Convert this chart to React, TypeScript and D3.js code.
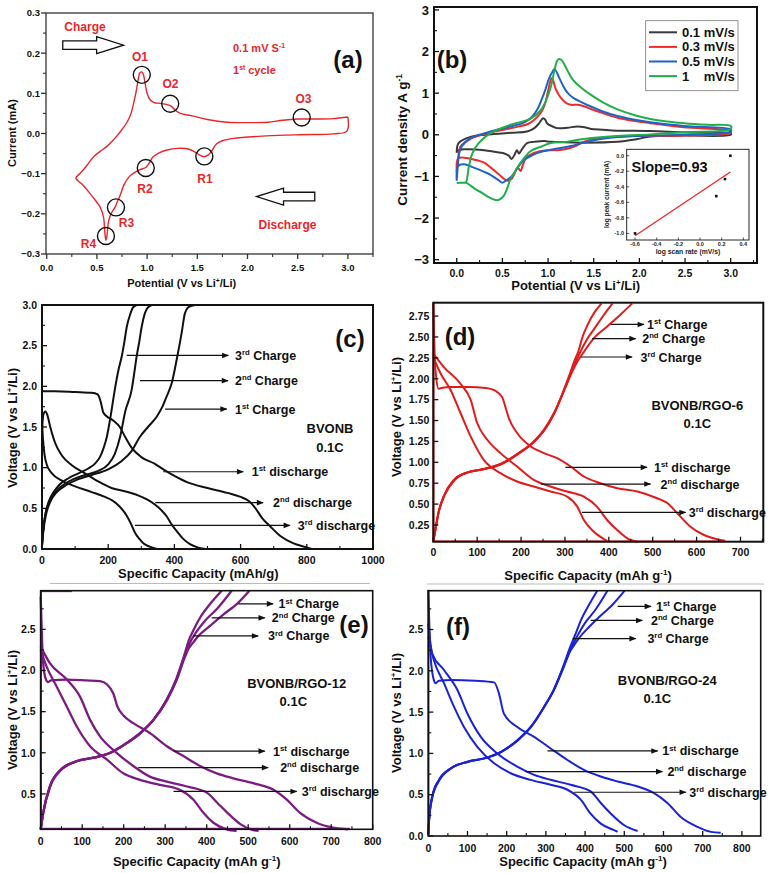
import React from "react";
import * as d3 from "d3";

type Pt = [number, number];
const FONT = "Arial, 'Liberation Sans', Helvetica, sans-serif";

// ---------------- (a) CV first cycle ----------------
const aLower: Pt[] = [[3.0,0.041],[2.99,0.006],[2.86,-0.001],[2.52,-0.003],[2.19,-0.006],[1.86,-0.012],[1.75,-0.018],[1.69,-0.026],[1.64,-0.045],[1.61,-0.053],[1.57,-0.058],[1.52,-0.053],[1.47,-0.045],[1.40,-0.038],[1.30,-0.037],[1.2,-0.041],[1.12,-0.048],[1.06,-0.058],[1.02,-0.074],[0.99,-0.084],[0.93,-0.09],[0.87,-0.098],[0.82,-0.108],[0.77,-0.128],[0.73,-0.155],[0.70,-0.172],[0.68,-0.184],[0.64,-0.2],[0.615,-0.22],[0.603,-0.248],[0.59,-0.266],[0.58,-0.249],[0.565,-0.207],[0.53,-0.182],[0.48,-0.165],[0.43,-0.149],[0.36,-0.128],[0.29,-0.111]];
const aUpper: Pt[] = [[0.29,-0.111],[0.33,-0.1],[0.37,-0.089],[0.42,-0.073],[0.47,-0.057],[0.53,-0.045],[0.6,-0.032],[0.65,-0.02],[0.7,-0.006],[0.75,0.01],[0.8,0.028],[0.84,0.05],[0.87,0.08],[0.895,0.11],[0.915,0.14],[0.93,0.152],[0.95,0.153],[0.965,0.145],[0.98,0.125],[1.0,0.1],[1.03,0.084],[1.07,0.077],[1.13,0.075],[1.2,0.072],[1.24,0.068],[1.28,0.058],[1.33,0.05],[1.45,0.044],[1.6,0.035],[1.8,0.028],[2.0,0.027],[2.2,0.028],[2.35,0.033],[2.5,0.036],[2.7,0.036],[2.85,0.037],[3.0,0.041]];
const aPeakNames = ["O1","O2","O3","R1","R2","R3","R4"];
const aPeakV = [0.947,1.23,2.54,1.57,0.987,0.69,0.59];
const aPeakI = [0.146,0.074,0.04,-0.057,-0.086,-0.184,-0.255];
const aXTicks = [0,0.5,1,1.5,2,2.5,3];
const aXMinor = [0.25,0.75,1.25,1.75,2.25,2.75,3.25];
const aYTicks = [-0.3,-0.2,-0.1,0,0.1,0.2,0.3];
const aYMinor = [-0.25,-0.15,-0.05,0.05,0.15,0.25];

// ---------------- (b) CV at several scan rates ----------------
const scanRates = ["0.1 mV/s","0.3 mV/s","0.5 mV/s","1    mV/s"];
const cv01: Pt[] = [[0,-0.43],[0.02,-0.2],[0.15,-0.05],[0.41,0.02],[0.6,0.05],[0.77,0.08],[0.85,0.16],[0.9,0.27],[0.945,0.4],[0.97,0.36],[0.99,0.27],[1.05,0.2],[1.1,0.16],[1.21,0.17],[1.32,0.2],[1.4,0.18],[1.47,0.14],[1.6,0.12],[1.76,0.1],[2.12,0.09],[2.49,0.06],[3.0,0.03],
  [3.0,0.0],[2.49,-0.02],[2.12,-0.04],[1.98,-0.1],[1.76,-0.17],[1.39,-0.19],[1.03,-0.17],[0.96,-0.15],[0.85,-0.17],[0.77,-0.2],[0.72,-0.33],[0.7,-0.4],[0.68,-0.45],[0.66,-0.37],[0.645,-0.42],[0.63,-0.49],[0.6,-0.58],[0.57,-0.5],[0.52,-0.45],[0.48,-0.43],[0.3,-0.37],[0.08,-0.35],[0.015,-0.38],[0,-0.43]];
const cv03: Pt[] = [[0,-0.9],[0.02,-0.5],[0.044,-0.27],[0.15,-0.1],[0.3,0.02],[0.41,0.08],[0.55,0.14],[0.66,0.19],[0.78,0.26],[0.85,0.36],[0.92,0.53],[0.96,0.7],[1.0,1.05],[1.02,1.25],[1.04,1.36],[1.06,1.28],[1.08,1.12],[1.12,0.95],[1.16,0.84],[1.2,0.76],[1.25,0.72],[1.32,0.72],[1.4,0.68],[1.47,0.62],[1.6,0.52],[1.76,0.41],[1.95,0.33],[2.12,0.28],[2.49,0.18],[3.0,0.09],
  [3.0,0.05],[2.49,-0.02],[2.0,-0.03],[1.76,-0.04],[1.6,-0.07],[1.47,-0.11],[1.38,-0.18],[1.3,-0.27],[1.2,-0.34],[1.1,-0.37],[1.0,-0.37],[0.9,-0.4],[0.82,-0.46],[0.76,-0.55],[0.72,-0.75],[0.7,-0.87],[0.68,-0.82],[0.66,-0.8],[0.63,-0.95],[0.6,-1.06],[0.55,-1.1],[0.46,-0.95],[0.38,-0.8],[0.3,-0.67],[0.2,-0.6],[0.08,-0.55],[0.015,-0.57],[0,-0.9]];
const cv05: Pt[] = [[0,-1.1],[0.01,-0.8],[0.026,-0.45],[0.06,-0.26],[0.15,-0.08],[0.25,0.0],[0.37,0.08],[0.59,0.2],[0.74,0.3],[0.82,0.42],[0.88,0.6],[0.93,0.85],[0.97,1.08],[1.01,1.35],[1.05,1.52],[1.07,1.58],[1.095,1.5],[1.12,1.38],[1.16,1.2],[1.19,1.08],[1.23,0.97],[1.28,0.88],[1.37,0.78],[1.47,0.68],[1.6,0.56],[1.76,0.45],[1.95,0.36],[2.12,0.3],[2.49,0.21],[3.0,0.13],
  [3.0,0.08],[2.49,0.0],[1.94,-0.03],[1.58,-0.1],[1.4,-0.18],[1.25,-0.27],[1.1,-0.33],[0.96,-0.39],[0.88,-0.44],[0.81,-0.51],[0.74,-0.6],[0.69,-0.72],[0.65,-0.85],[0.6,-1.0],[0.55,-1.08],[0.5,-1.15],[0.445,-1.07],[0.37,-0.96],[0.3,-0.89],[0.2,-0.8],[0.08,-0.71],[0.015,-0.75],[0,-1.1]];
const cv1: Pt[] = [[0,-1.16],[0.05,-1.155],[0.1,-1.14],[0.117,-1.0],[0.13,-0.8],[0.17,-0.45],[0.24,-0.2],[0.37,0.04],[0.59,0.24],[0.81,0.39],[0.92,0.59],[0.97,0.78],[1.03,1.15],[1.07,1.55],[1.1,1.78],[1.12,1.82],[1.15,1.79],[1.19,1.64],[1.23,1.47],[1.28,1.3],[1.37,1.12],[1.47,0.96],[1.6,0.78],[1.76,0.61],[1.95,0.47],[2.12,0.38],[2.3,0.32],[2.49,0.28],[2.75,0.24],[3.0,0.21],
  [3.0,0.14],[2.49,0.06],[2.12,0.01],[1.76,-0.03],[1.39,-0.1],[1.2,-0.17],[1.03,-0.2],[0.93,-0.28],[0.81,-0.39],[0.7,-0.67],[0.64,-0.88],[0.59,-1.06],[0.55,-1.3],[0.52,-1.45],[0.48,-1.54],[0.445,-1.57],[0.4,-1.55],[0.35,-1.5],[0.28,-1.4],[0.2,-1.3],[0.14,-1.2],[0.1,-1.14]];
const bXTicks = [0,0.5,1,1.5,2,2.5,3];
const bXMinor = [-0.25,0.25,0.75,1.25,1.75,2.25,2.75,3.25];
const bYTicks = [-3,-2,-1,0,1,2,3];
const bYMinor = [-2.5,-1.5,-0.5,0.5,1.5,2.5];
const insetLogRate = [-0.6,0.15,0.23,0.28];
const insetLogPeak = [-1.0,-0.52,-0.3,0.0];
const insetFit: Pt[] = [[-0.6,-1.03],[0.28,-0.21]];
const insetXTicks = [-0.6,-0.4,-0.2,0,0.2,0.4];
const insetYTicks = [0,-0.2,-0.4,-0.6,-0.8,-1.0];

// ---------------- (c) BVONB ----------------
const cCh1: Pt[] = [[0,0.04],[5,0.25],[12,0.42],[25,0.58],[45,0.7],[75,0.79],[110,0.86],[150,0.91],[200,0.98],[240,1.08],[270,1.2],[296,1.38],[320,1.5],[347,1.63],[365,1.76],[377,1.88],[392,2.04],[407,2.33],[415,2.5],[422,2.66],[432,2.9],[445,2.98],[463,3.0]];
const cCh2: Pt[] = [[0,0.04],[4,0.25],[10,0.42],[22,0.58],[40,0.7],[65,0.79],[95,0.86],[130,0.91],[170,0.96],[200,1.04],[220,1.17],[236,1.38],[252,1.7],[271,1.96],[280,2.2],[286,2.37],[294,2.55],[301,2.73],[311,2.9],[320,2.97],[332,3.0]];
const cCh3: Pt[] = [[0,0.04],[4,0.25],[10,0.42],[20,0.58],[35,0.7],[55,0.8],[80,0.87],[110,0.93],[140,0.99],[160,1.05],[175,1.13],[186,1.24],[196,1.38],[208,1.65],[220,1.96],[231,2.2],[241,2.37],[249,2.55],[256,2.73],[266,2.88],[275,2.97],[286,3.0]];
const cDis1: Pt[] = [[0,1.95],[5,1.94],[40,1.94],[100,1.93],[150,1.92],[168,1.9],[178,1.8],[185,1.68],[196,1.63],[215,1.58],[235,1.5],[251,1.38],[270,1.25],[300,1.13],[340,1.05],[370,0.97],[400,0.9],[440,0.82],[500,0.75],[560,0.69],[600,0.64],[625,0.59],[645,0.5],[665,0.38],[689,0.28],[720,0.16],[760,0.07],[790,0.03],[815,0.0]];
const cDis2: Pt[] = [[0,1.45],[4,1.65],[10,1.69],[16,1.65],[25,1.5],[40,1.3],[60,1.15],[90,1.03],[130,0.93],[170,0.83],[210,0.75],[250,0.71],[290,0.66],[317,0.61],[340,0.55],[360,0.48],[377,0.4],[392,0.3],[407,0.22],[425,0.13],[447,0.06],[470,0.02],[493,0.0]];
const cDis3: Pt[] = [[0,1.55],[3,1.35],[8,1.15],[15,1.03],[30,0.93],[60,0.84],[100,0.77],[150,0.7],[190,0.64],[211,0.6],[235,0.52],[256,0.41],[270,0.3],[281,0.2],[295,0.12],[306,0.07],[325,0.03],[347,0.0]];
const cXTicks = [0,200,400,600,800,1000];
const cXMinor = [100,300,500,700,900];
const cYTicks = [0,0.5,1,1.5,2,2.5,3];
const cYMinor = [0.25,0.75,1.25,1.75,2.25,2.75];
// annotation arrows: [start capacity, end capacity, voltage] for cycles 1,2,3
const cChargeArrows: number[][] = [[372,558,1.72],[296,562,2.07],[256,563,2.38]];
const cDisArrows: number[][] = [[366,608,0.95],[342,668,0.57],[281,749,0.29]];

// ---------------- (d) BVONB/RGO-6 ----------------
const dCh1: Pt[] = [[0,0.05],[5,0.2],[12,0.4],[24,0.6],[47,0.79],[77,0.88],[115,0.92],[153,0.98],[191,1.1],[229,1.25],[252,1.39],[275,1.59],[298,1.86],[318,2.1],[330,2.22],[343,2.32],[365,2.48],[395,2.62],[425,2.76],[453,2.9]];
const dCh2: Pt[] = [[0,0.05],[5,0.2],[12,0.4],[25,0.6],[48,0.79],[78,0.88],[116,0.92],[154,0.98],[192,1.1],[230,1.25],[253,1.39],[276,1.59],[298,1.86],[316,2.1],[326,2.22],[335,2.32],[350,2.47],[367,2.6],[388,2.76],[408,2.9]];
const dCh3: Pt[] = [[0,0.05],[5,0.2],[12,0.4],[25,0.6],[49,0.79],[80,0.88],[118,0.92],[156,0.98],[194,1.1],[231,1.25],[254,1.39],[276,1.59],[297,1.86],[314,2.1],[322,2.22],[330,2.32],[340,2.5],[352,2.65],[368,2.8],[383,2.9]];
const dDis1: Pt[] = [[0,2.9],[3,2.3],[7,2.0],[12,1.88],[18,1.89],[40,1.9],[80,1.9],[120,1.89],[140,1.86],[157,1.78],[165,1.65],[172,1.53],[191,1.35],[222,1.19],[252,1.11],[282,1.05],[313,0.95],[343,0.83],[381,0.75],[419,0.69],[465,0.65],[510,0.57],[534,0.51],[556,0.39],[586,0.23],[617,0.13],[647,0.08],[665,0.06]];
const dDis2: Pt[] = [[0,2.3],[24,2.14],[62,1.94],[85,1.75],[100,1.47],[123,1.27],[153,1.11],[191,0.95],[229,0.79],[267,0.71],[305,0.65],[343,0.59],[373,0.47],[396,0.31],[419,0.19],[449,0.07],[465,0.05]];
const dDis3: Pt[] = [[0,2.26],[17,2.06],[40,1.86],[62,1.59],[85,1.31],[115,1.03],[153,0.87],[191,0.77],[229,0.71],[267,0.65],[305,0.59],[328,0.47],[343,0.31],[366,0.17],[396,0.06]];
const dBase: Pt[] = [[0,0.055],[665,0.055]];
const dEdge: Pt[] = [[0.5,0.05],[0.5,2.91]];
const dXTicks = [0,100,200,300,400,500,600,700];
const dXMinor = [50,150,250,350,450,550,650,750];
const dYTicks = [0.25,0.5,0.75,1,1.25,1.5,1.75,2,2.25,2.5,2.75];
const dChargeArrows: number[][] = [[404,480,2.65],[362,461,2.48],[336,453,2.26]];
const dDisArrows: number[][] = [[301,487,0.94],[245,495,0.74],[339,575,0.40]];

// ---------------- (e) BVONB/RGO-12 ----------------
const eCh1: Pt[] = [[0,0.07],[6,0.27],[22,0.59],[47,0.79],[87,0.9],[127,0.94],[167,1.0],[207,1.12],[239,1.24],[271,1.4],[304,1.64],[328,1.89],[348,2.17],[358,2.28],[366,2.33],[380,2.42],[405,2.53],[440,2.68],[475,2.82],[503,2.97]];
const eCh2: Pt[] = [[0,0.07],[6,0.27],[22,0.59],[48,0.79],[88,0.9],[128,0.94],[168,1.0],[208,1.12],[240,1.24],[272,1.4],[304,1.64],[327,1.89],[346,2.17],[356,2.3],[363,2.37],[375,2.47],[395,2.6],[425,2.75],[460,2.97]];
const eCh3: Pt[] = [[0,0.07],[6,0.27],[23,0.59],[49,0.79],[89,0.9],[129,0.94],[169,1.0],[209,1.12],[241,1.24],[272,1.4],[303,1.64],[326,1.89],[345,2.17],[357,2.37],[368,2.49],[385,2.65],[410,2.82],[436,2.97]];
const eDis1: Pt[] = [[0,2.9],[3,2.4],[6,2.09],[12,1.9],[18,1.86],[25,1.88],[63,1.89],[110,1.88],[143,1.87],[160,1.83],[175,1.72],[185,1.56],[200,1.45],[223,1.36],[263,1.24],[304,1.08],[344,0.96],[384,0.84],[424,0.75],[464,0.69],[512,0.63],[561,0.55],[593,0.43],[625,0.27],[665,0.15],[705,0.09],[741,0.07]];
const eDis2: Pt[] = [[0,2.29],[22,2.09],[63,1.89],[95,1.68],[119,1.4],[143,1.2],[183,1.0],[223,0.84],[263,0.71],[304,0.65],[353,0.59],[402,0.51],[426,0.39],[450,0.27],[482,0.13],[512,0.06],[525,0.05]];
const eDis3: Pt[] = [[0,2.25],[14,2.05],[39,1.8],[63,1.56],[87,1.32],[119,1.08],[159,0.92],[199,0.75],[239,0.67],[287,0.61],[335,0.55],[368,0.43],[392,0.27],[416,0.15],[448,0.07],[472,0.05]];
const eBase: Pt[] = [[0,0.075],[745,0.075]];
const eTop: Pt[] = [[0,2.965],[75,2.965]];
const eEdge: Pt[] = [[0.5,0.07],[0.5,2.97]];
const eXTicks = [0,100,200,300,400,500,600,700,800];
const eXMinor = [50,150,250,350,450,550,650,750];
const eYTicks = [0.5,1,1.5,2,2.5];
const eYMinor = [0.25,0.75,1.25,1.75,2.25,2.75];
const eChargeArrows: number[][] = [[476,560,2.81],[412,540,2.64],[368,524,2.42]];
const eDisArrows: number[][] = [[320,540,1.02],[235,548,0.82],[320,617,0.53]];

// ---------------- (f) BVONB/RGO-24 ----------------
const fCh1: Pt[] = [[0,0.02],[2,0.19],[10,0.48],[27,0.68],[57,0.82],[100,0.9],[142,0.94],[185,1.02],[227,1.16],[261,1.32],[295,1.56],[321,1.77],[346,2.05],[360,2.22],[369,2.29],[385,2.4],[410,2.53],[440,2.67],[470,2.8],[501,2.97]];
const fCh2: Pt[] = [[0,0.02],[2,0.19],[10,0.48],[28,0.68],[58,0.82],[101,0.9],[143,0.94],[186,1.02],[228,1.16],[262,1.32],[295,1.56],[320,1.77],[345,2.05],[358,2.2],[366,2.29],[380,2.42],[400,2.58],[425,2.73],[457,2.97]];
const fCh3: Pt[] = [[0,0.02],[2,0.19],[11,0.48],[29,0.68],[59,0.82],[102,0.9],[144,0.94],[187,1.02],[229,1.16],[262,1.32],[295,1.56],[320,1.77],[344,2.05],[362,2.29],[376,2.45],[390,2.62],[410,2.8],[431,2.97]];
const fDis1: Pt[] = [[0,2.98],[3,2.5],[6,2.17],[14,1.89],[19,1.85],[27,1.88],[60,1.89],[120,1.88],[168,1.86],[180,1.73],[193,1.48],[227,1.32],[270,1.2],[312,1.06],[355,0.92],[397,0.8],[440,0.72],[483,0.66],[534,0.6],[576,0.52],[610,0.4],[644,0.23],[687,0.11],[721,0.05],[746,0.04]];
const fDis2: Pt[] = [[0,2.57],[10,2.21],[40,2.01],[74,1.77],[100,1.48],[134,1.2],[176,1.0],[227,0.84],[270,0.74],[312,0.68],[363,0.62],[414,0.54],[440,0.4],[466,0.27],[500,0.13],[534,0.06]];
const fDis3: Pt[] = [[0,2.41],[14,2.13],[40,1.85],[66,1.56],[91,1.32],[125,1.08],[168,0.88],[210,0.76],[261,0.68],[312,0.62],[355,0.56],[389,0.44],[414,0.27],[440,0.15],[474,0.07],[483,0.05]];
const fEdge: Pt[] = [[0.5,0.0],[0.5,2.97]];
const fXTicks = [0,100,200,300,400,500,600,700,800];
const fXMinor = [50,150,250,350,450,550,650,750];
const fYTicks = [0,0.5,1,1.5,2,2.5];
const fYMinor = [0.25,0.75,1.25,1.75,2.25,2.75];
const fChargeArrows: number[][] = [[483,568,2.78],[414,546,2.61],[368,529,2.39]];
const fDisArrows: number[][] = [[304,585,1.03],[249,597,0.78],[372,657,0.53]];

const ordNum = ["1","2","3"];
const ordSuf = ["st","nd","rd"];

type Part = { t: string; sup?: boolean };
function Rich(props: any) {
  const { parts, fs, ...rest } = props;
  let shifted = false;
  const kids = (parts as Part[]).map((p, i) => {
    if (p.sup) {
      const el = <tspan key={i} dy={shifted ? 0 : -fs * 0.38} fontSize={fs * 0.62}>{p.t}</tspan>;
      shifted = true;
      return el;
    }
    const el = <tspan key={i} dy={shifted ? fs * 0.38 : 0}>{p.t}</tspan>;
    shifted = false;
    return el;
  });
  return <text fontFamily={FONT} fontWeight="bold" fontSize={fs} style={{ whiteSpace: "pre" }} {...rest}>{kids}</text>;
}

type Sc = d3.ScaleLinear<number, number>;
function Axes(p: {
  xs: Sc; ys: Sc; xTicks: number[]; xMinor: number[]; yTicks: number[]; yMinor: number[];
  xFmt: (v: number) => string; yFmt: (v: number) => string; dir: number; frameW: number;
  xFont: number; yFont: number; xDy: number; yDx: number; color?: string;
}) {
  const [x0, x1] = p.xs.range();
  const [yb, yt] = p.ys.range();
  const c = p.color || "#111";
  const L = 5, M = 3;
  return (
    <g>
      {p.xTicks.map((t) => <line key={"xt" + t} x1={p.xs(t)} x2={p.xs(t)} y1={yb} y2={yb - p.dir * L} stroke={c} strokeWidth={1.3} />)}
      {p.xMinor.filter((t) => p.xs(t) <= x1).map((t) => <line key={"xm" + t} x1={p.xs(t)} x2={p.xs(t)} y1={yb} y2={yb - p.dir * M} stroke={c} strokeWidth={1.1} />)}
      {p.yTicks.map((t) => <line key={"yt" + t} x1={x0} x2={x0 + p.dir * L} y1={p.ys(t)} y2={p.ys(t)} stroke={c} strokeWidth={1.3} />)}
      {p.yMinor.filter((t) => p.ys(t) >= yt).map((t) => <line key={"ym" + t} x1={x0} x2={x0 + p.dir * M} y1={p.ys(t)} y2={p.ys(t)} stroke={c} strokeWidth={1.1} />)}
      <rect x={x0} y={yt} width={x1 - x0} height={yb - yt} fill="none" stroke={c} strokeWidth={p.frameW} />
      {p.xTicks.map((t) => <text key={"xl" + t} x={p.xs(t)} y={yb + p.xDy} textAnchor="middle" fontFamily={FONT} fontWeight="bold" fontSize={p.xFont} fill="#111">{p.xFmt(t)}</text>)}
      {p.yTicks.map((t) => <text key={"yl" + t} x={x0 - p.yDx} y={p.ys(t) + p.yFont * 0.36} textAnchor="end" fontFamily={FONT} fontWeight="bold" fontSize={p.yFont} fill="#111">{p.yFmt(t)}</text>)}
    </g>
  );
}

function HollowArrow({ x0, x1, y }: { x0: number; x1: number; y: number }) {
  const d = Math.sign(x1 - x0);
  const head = 27, hh = 8.5, bh = 4.3;
  const xh = x1 - d * head;
  const pts = [[x0, y - bh], [xh, y - bh], [xh, y - hh], [x1, y], [xh, y + hh], [xh, y + bh], [x0, y + bh]];
  return <polygon points={pts.map((q) => q.join(",")).join(" ")} fill="white" stroke="#111" strokeWidth={1.3} />;
}

function GCDPanel(props: {
  xs: Sc; ys: Sc; color: string; curves: Pt[][]; extra: Pt[][]; chargeArrows: number[][]; disArrows: number[][];
  chargeTextX: number[]; disTextX: number[]; lw: number;
}) {
  const line = d3.line<Pt>().x((d) => props.xs(d[0])).y((d) => props.ys(d[1])).curve(d3.curveMonotoneX);
  const straight = d3.line<Pt>().x((d) => props.xs(d[0])).y((d) => props.ys(d[1]));
  return (
    <g>
      {props.extra.map((c, i) => <path key={"e" + i} d={straight(c) || ""} fill="none" stroke={props.color} strokeWidth={props.lw * 0.9} />)}
      {props.curves.map((c, i) => <path key={"c" + i} d={line(c) || ""} fill="none" stroke={props.color} strokeWidth={props.lw} strokeLinejoin="round" />)}
      {props.chargeArrows.map((a, i) => (
        <g key={"ca" + i}>
          <line x1={props.xs(a[0])} x2={props.xs(a[1])} y1={props.ys(a[2])} y2={props.ys(a[2])} stroke="#111" strokeWidth={1.2} markerEnd="url(#ah)" />
          <Rich x={props.xs(props.chargeTextX[i])} y={props.ys(a[2]) + 4.5} fs={12.5} fill="#111" parts={[{ t: ordNum[i] }, { t: ordSuf[i], sup: true }, { t: " Charge" }]} />
        </g>
      ))}
      {props.disArrows.map((a, i) => (
        <g key={"da" + i}>
          <line x1={props.xs(a[0])} x2={props.xs(a[1])} y1={props.ys(a[2])} y2={props.ys(a[2])} stroke="#111" strokeWidth={1.2} markerEnd="url(#ah)" />
          <Rich x={props.xs(props.disTextX[i])} y={props.ys(a[2]) + 4.5} fs={12.5} fill="#111" parts={[{ t: ordNum[i] }, { t: ordSuf[i], sup: true }, { t: " discharge" }]} />
        </g>
      ))}
    </g>
  );
}

const f1 = d3.format(".1f");
const f2 = d3.format(".2f");
const f0 = d3.format("d");

export default function App() {
  const axs = d3.scaleLinear().domain([-0.007, 3.25]).range([46, 373]);
  const ays = d3.scaleLinear().domain([-0.3, 0.3]).range([254, 13]);
  const bxs = d3.scaleLinear().domain([-0.249, 3.288]).range([434, 757]);
  const bys = d3.scaleLinear().domain([-3.08, 3.07]).range([263, 7]);
  const ixs = d3.scaleLinear().domain([-0.677, 0.452]).range([626.7, 749]);
  const iys = d3.scaleLinear().domain([-1.085, 0.083]).range([240, 149.3]);
  const cxs = d3.scaleLinear().domain([0, 1000]).range([42, 373]);
  const cys = d3.scaleLinear().domain([0, 3]).range([549, 305]);
  const dxs = d3.scaleLinear().domain([0, 752]).range([433.3, 763.3]);
  const dys = d3.scaleLinear().domain([0.05, 2.91]).range([541.7, 302.7]);
  const exs = d3.scaleLinear().domain([0, 800]).range([40.7, 372.7]);
  const eys = d3.scaleLinear().domain([0.07, 2.97]).range([829.3, 590.7]);
  const fxs = d3.scaleLinear().domain([0, 848]).range([428.3, 760.7]);
  const fys = d3.scaleLinear().domain([0, 2.97]).range([836, 590.7]);

  const aLine = d3.line<Pt>().x((d) => axs(d[0])).y((d) => ays(d[1])).curve(d3.curveCatmullRom.alpha(0.5));
  const bLine = d3.line<Pt>().x((d) => bxs(d[0])).y((d) => bys(d[1])).curve(d3.curveCatmullRom.alpha(0.5));
  const aRed = "#e8262a";
  const bColors = ["#3a3a3a", "#ef2b2b", "#1f63c9", "#1fae48"];
  const bData = [cv01, cv03, cv05, cv1];
  const labelPos = [[140, 61], [170.5, 88], [303.5, 103], [205, 183], [145, 193], [126.5, 227], [88.5, 248]];

  return (
    <svg width={768} height={873} viewBox="0 0 768 873" style={{ position: "absolute", left: 0, top: 0, background: "#fff" }}>
      <style>{`body{margin:0}`}</style>
      <defs>
        <marker id="ah" viewBox="0 0 10 10" refX="9" refY="5" markerWidth="8" markerHeight="7" markerUnits="userSpaceOnUse" orient="auto">
          <path d="M0,1 L10,5 L0,9 z" fill="#111" />
        </marker>
      </defs>
      <rect x={0} y={0} width={768} height={873} fill="#fff" />

      {/* ================= (a) ================= */}
      <g>
        <path d={aLine([...aLower, ...aUpper.slice(1)]) || ""} fill="none" stroke={aRed} strokeWidth={1.4} />
        {aPeakNames.map((n, i) => (
          <circle key={n} cx={axs(aPeakV[i])} cy={ays(aPeakI[i])} r={8.5} fill="none" stroke="#111" strokeWidth={1.4} />
        ))}
        {aPeakNames.map((n, i) => (
          <text key={"l" + n} x={labelPos[i][0]} y={labelPos[i][1]} textAnchor="middle" fontFamily={FONT} fontWeight="bold" fontSize={12} fill={aRed}>{n}</text>
        ))}
        <text x={85} y={30.5} textAnchor="middle" fontFamily={FONT} fontWeight="bold" fontSize={12} fill={aRed}>Charge</text>
        <HollowArrow x0={axs(0.16)} x1={axs(0.766)} y={ays(0.22)} />
        <text x={287.5} y={229} textAnchor="middle" fontFamily={FONT} fontWeight="bold" fontSize={12} fill={aRed}>Discharge</text>
        <HollowArrow x0={axs(2.67)} x1={axs(2.09)} y={ays(-0.157)} />
        <Rich x={233} y={52} fs={11} fill={aRed} parts={[{ t: "0.1 mV S" }, { t: "-1", sup: true }]} />
        <Rich x={233} y={74} fs={11} fill={aRed} parts={[{ t: "1" }, { t: "st", sup: true }, { t: " cycle" }]} />
        <text x={348} y={68} textAnchor="middle" fontFamily={FONT} fontWeight="bold" fontSize={24} fill="#111">(a)</text>
        <Axes xs={axs} ys={ays} xTicks={aXTicks} xMinor={aXMinor} yTicks={aYTicks} yMinor={aYMinor} xFmt={f1} yFmt={f1} dir={-1} frameW={1.3} xFont={9.5} yFont={9.5} xDy={16.5} yDx={6} color="#333" />
        <Rich x={181.7} y={287} textAnchor="middle" fs={11} fill="#111" parts={[{ t: "Potential (V vs Li" }, { t: "+", sup: true }, { t: "/Li)" }]} />
        <text transform="translate(16,133) rotate(-90)" textAnchor="middle" fontFamily={FONT} fontWeight="bold" fontSize={11} fill="#111">Current (mA)</text>
      </g>

      {/* ================= (b) ================= */}
      <g>
        {bData.map((d, i) => (
          <path key={"b" + i} d={bLine(d) || ""} fill="none" stroke={bColors[i]} strokeWidth={2} strokeLinejoin="round" />
        ))}
        <Axes xs={bxs} ys={bys} xTicks={bXTicks} xMinor={bXMinor} yTicks={bYTicks} yMinor={bYMinor} xFmt={f1} yFmt={f0} dir={1} frameW={2} xFont={10.5} yFont={13} xDy={14} yDx={5} />
        <text x={452} y={68} textAnchor="middle" fontFamily={FONT} fontWeight="bold" fontSize={24} fill="#111">(b)</text>
        <rect x={645.7} y={20.7} width={92.3} height={70} fill="#fff" stroke="#777" strokeWidth={0.8} />
        {scanRates.map((s, i) => (
          <g key={s}>
            <line x1={649} x2={677} y1={32.3 + i * 14.6} y2={32.3 + i * 14.6} stroke={bColors[i]} strokeWidth={2} />
            <text x={682} y={32.3 + i * 14.6 + 4.5} fontFamily={FONT} fontWeight="bold" fontSize={13} fill="#111" style={{ whiteSpace: "pre" }}>{s}</text>
          </g>
        ))}
        <rect x={600} y={144} width={152} height={113} fill="#fff" />
        <path d={d3.line<Pt>().x((d) => ixs(d[0])).y((d) => iys(d[1]))(insetFit) || ""} stroke="#e8262a" strokeWidth={1.3} fill="none" />
        {insetLogRate.map((v, i) => (
          <rect key={"ip" + i} x={ixs(v) - 1.3} y={iys(insetLogPeak[i]) - 1.3} width={2.6} height={2.6} fill="#111" />
        ))}
        {insetXTicks.map((t) => (
          <g key={"ixt" + t}>
            <line x1={ixs(t)} x2={ixs(t)} y1={240} y2={237.5} stroke="#111" strokeWidth={0.7} />
            <text x={ixs(t)} y={246} textAnchor="middle" fontFamily={FONT} fontWeight="bold" fontSize={5.5} fill="#222">{f1(t).replace("\u2212", "-")}</text>
          </g>
        ))}
        {insetYTicks.map((t) => (
          <g key={"iyt" + t}>
            <line x1={626.7} x2={629.2} y1={iys(t)} y2={iys(t)} stroke="#111" strokeWidth={0.7} />
            <text x={624} y={iys(t) + 2} textAnchor="end" fontFamily={FONT} fontWeight="bold" fontSize={5.5} fill="#222">{f1(t).replace("\u2212", "-")}</text>
          </g>
        ))}
        <rect x={626.7} y={149.3} width={122.3} height={90.7} fill="none" stroke="#111" strokeWidth={0.9} />
        <text x={688} y={253.5} textAnchor="middle" fontFamily={FONT} fontWeight="bold" fontSize={6.8} fill="#222">log scan rate (mV/s)</text>
        <text transform="translate(609,194.5) rotate(-90)" textAnchor="middle" fontFamily={FONT} fontWeight="bold" fontSize={6.5} fill="#222">log peak current (mA)</text>
        <text x={631.5} y={172} fontFamily={FONT} fontWeight="bold" fontSize={14.5} fill="#111">Slope=0.93</text>
        <Rich x={575.7} y={290} textAnchor="middle" fs={13} fill="#111" parts={[{ t: "Potential (V vs Li" }, { t: "+", sup: true }, { t: "/Li)" }]} />
        <Rich transform="translate(407,140) rotate(-90)" textAnchor="middle" fs={13.5} fill="#111" parts={[{ t: "Current density A g" }, { t: "-1", sup: true }]} />
      </g>

      {/* ================= (c) ================= */}
      <g>
        <line x1={50} x2={370} y1={583.5} y2={583.5} stroke="#bbb" strokeWidth={1} />
        <GCDPanel xs={cxs} ys={cys} color="#111" lw={2} curves={[cCh1, cCh2, cCh3, cDis1, cDis2, cDis3]} extra={[]}
          chargeArrows={cChargeArrows} disArrows={cDisArrows} chargeTextX={[583, 583, 583]} disTextX={[634, 698, 773]} />
        <Axes xs={cxs} ys={cys} xTicks={cXTicks} xMinor={cXMinor} yTicks={cYTicks} yMinor={cYMinor} xFmt={f0} yFmt={f1} dir={1} frameW={2} xFont={10.5} yFont={10.5} xDy={14.5} yDx={5} />
        <text x={350} y={347} textAnchor="middle" fontFamily={FONT} fontWeight="bold" fontSize={24} fill="#111">(c)</text>
        <text x={330} y={433} textAnchor="middle" fontFamily={FONT} fontWeight="bold" fontSize={13} fill="#111">BVONB</text>
        <text x={330} y={452} textAnchor="middle" fontFamily={FONT} fontWeight="bold" fontSize={13} fill="#111">0.1C</text>
        <text x={198.3} y={578} textAnchor="middle" fontFamily={FONT} fontWeight="bold" fontSize={13} fill="#111">Specific Capacity (mAh/g)</text>
        <Rich transform="translate(16.5,428) rotate(-90)" textAnchor="middle" fs={13} fill="#111" parts={[{ t: "Voltage (V vs Li" }, { t: "+", sup: true }, { t: "/Li)" }]} />
      </g>

      {/* ================= (d) ================= */}
      <g>
        <line x1={427} x2={764} y1={584} y2={584} stroke="#bbb" strokeWidth={1} />
        <GCDPanel xs={dxs} ys={dys} color="#e01b1b" lw={2} curves={[dCh1, dCh2, dCh3, dDis1, dDis2, dDis3]} extra={[dBase, dEdge]}
          chargeArrows={dChargeArrows} disArrows={dDisArrows} chargeTextX={[487, 476, 472]} disTextX={[503, 518, 582]} />
        <Axes xs={dxs} ys={dys} xTicks={dXTicks} xMinor={dXMinor} yTicks={dYTicks} yMinor={[]} xFmt={f0} yFmt={f2} dir={1} frameW={2} xFont={10.5} yFont={10.5} xDy={14} yDx={4} />
        <text x={460} y={345} textAnchor="middle" fontFamily={FONT} fontWeight="bold" fontSize={24} fill="#111">(d)</text>
        <text x={697.3} y={409.5} textAnchor="middle" fontFamily={FONT} fontWeight="bold" fontSize={13} fill="#111">BVONB/RGO-6</text>
        <text x={697.3} y={428} textAnchor="middle" fontFamily={FONT} fontWeight="bold" fontSize={13} fill="#111">0.1C</text>
        <Rich x={588} y={580} textAnchor="middle" fs={13} fill="#111" parts={[{ t: "Specific Capacity (mAh g" }, { t: "-1", sup: true }, { t: ")" }]} />
        <Rich transform="translate(400.5,417) rotate(-90)" textAnchor="middle" fs={13} fill="#111" parts={[{ t: "Voltage (V vs Li" }, { t: "+", sup: true }, { t: "/Li)" }]} />
      </g>

      {/* ================= (e) ================= */}
      <g>
        <GCDPanel xs={exs} ys={eys} color="#7b1c80" lw={2.3} curves={[eCh1, eCh2, eCh3, eDis1, eDis2, eDis3]} extra={[eBase, eTop, eEdge]}
          chargeArrows={eChargeArrows} disArrows={eDisArrows} chargeTextX={[573, 557, 548]} disTextX={[560, 577, 629]} />
        <Axes xs={exs} ys={eys} xTicks={eXTicks} xMinor={eXMinor} yTicks={eYTicks} yMinor={eYMinor} xFmt={f0} yFmt={f1} dir={1} frameW={1.6} xFont={10.5} yFont={10.5} xDy={16} yDx={5} />
        <text x={354} y={633} textAnchor="middle" fontFamily={FONT} fontWeight="bold" fontSize={24} fill="#111">(e)</text>
        <text x={296.7} y={688} textAnchor="middle" fontFamily={FONT} fontWeight="bold" fontSize={13} fill="#111">BVONB/RGO-12</text>
        <text x={293.3} y={706} textAnchor="middle" fontFamily={FONT} fontWeight="bold" fontSize={13} fill="#111">0.1C</text>
        <Rich x={196.7} y={866} textAnchor="middle" fs={13} fill="#111" parts={[{ t: "Specific Capacity (mAh g" }, { t: "-1", sup: true }, { t: ")" }]} />
        <Rich transform="translate(16.5,710) rotate(-90)" textAnchor="middle" fs={13} fill="#111" parts={[{ t: "Voltage (V vs Li" }, { t: "+", sup: true }, { t: "/Li)" }]} />
      </g>

      {/* ================= (f) ================= */}
      <g>
        <GCDPanel xs={fxs} ys={fys} color="#1a22d6" lw={2} curves={[fCh1, fCh2, fCh3, fDis1, fDis2, fDis3]} extra={[fEdge]}
          chargeArrows={fChargeArrows} disArrows={fDisArrows} chargeTextX={[581, 568, 559]} disTextX={[597, 610, 666]} />
        <Axes xs={fxs} ys={fys} xTicks={fXTicks} xMinor={fXMinor} yTicks={fYTicks} yMinor={fYMinor} xFmt={f0} yFmt={f1} dir={1} frameW={1.6} xFont={10.5} yFont={10.5} xDy={16} yDx={5} />
        <text x={458} y={635} textAnchor="middle" fontFamily={FONT} fontWeight="bold" fontSize={24} fill="#111">(f)</text>
        <text x={667.3} y={684.5} textAnchor="middle" fontFamily={FONT} fontWeight="bold" fontSize={13} fill="#111">BVONB/RGO-24</text>
        <text x={657.3} y={703} textAnchor="middle" fontFamily={FONT} fontWeight="bold" fontSize={13} fill="#111">0.1C</text>
        <Rich x={583} y={866} textAnchor="middle" fs={13} fill="#111" parts={[{ t: "Specific Capacity (mAh g" }, { t: "-1", sup: true }, { t: ")" }]} />
        <Rich transform="translate(400.5,713) rotate(-90)" textAnchor="middle" fs={13} fill="#111" parts={[{ t: "Voltage (V vs Li" }, { t: "+", sup: true }, { t: "/Li)" }]} />
      </g>
    </svg>
  );
}
